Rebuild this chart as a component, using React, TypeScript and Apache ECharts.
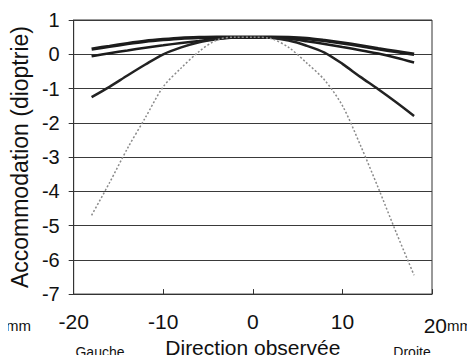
import React, { useEffect, useRef } from "react";
import * as echarts from "echarts";

const positions = [-18, -16, -14, -12, -10, -8, -6, -4, -2, 0, 2, 4, 6, 8, 10, 12, 14, 16, 18];
const seriesA = [0.15, 0.23, 0.31, 0.38, 0.43, 0.47, 0.49, 0.5, 0.5, 0.5, 0.5, 0.49, 0.46, 0.4, 0.33, 0.25, 0.16, 0.08, 0.0];
const seriesB = [-0.06, 0.03, 0.11, 0.19, 0.26, 0.33, 0.39, 0.45, 0.49, 0.5, 0.49, 0.45, 0.38, 0.3, 0.21, 0.12, 0.02, -0.1, -0.24];
const seriesC = [-1.25, -0.95, -0.62, -0.3, 0.0, 0.2, 0.35, 0.44, 0.5, 0.5, 0.48, 0.4, 0.25, 0.05, -0.28, -0.66, -1.02, -1.4, -1.8];
const seriesD = [-4.7, -3.75, -2.75, -1.85, -0.95, -0.4, 0.08, 0.42, 0.5, 0.5, 0.46, 0.2, -0.25, -0.75, -1.5, -2.65, -3.9, -5.2, -6.45];
const xTicks = [-20, -10, 0, 10, 20];
const yTicks = [1, 0, -1, -2, -3, -4, -5, -6, -7];

const FONT = "Liberation Sans, Arial, sans-serif";

export default function App() {
  const ref = useRef<HTMLDivElement>(null);
  useEffect(() => {
    if (!ref.current) return;
    const chart = echarts.init(ref.current, undefined, { renderer: "svg" });
    const pts = (arr: number[]) => positions.map((x, i) => [x, arr[i]]);
    const mk = (name: string, arr: number[], width: number, color: string, type: any) => ({
      name,
      type: "line",
      data: pts(arr),
      showSymbol: false,
      symbol: "none",
      smooth: 0.3,
      lineStyle: { width, color, type },
      z: 5,
    });
    chart.setOption({
      animation: false,
      backgroundColor: "#ffffff",
      grid: {
        left: 72,
        right: 43,
        top: 20,
        bottom: 67,
        show: true,
        borderColor: "#333",
        borderWidth: 1,
      },
      xAxis: {
        type: "value",
        min: xTicks[0],
        max: xTicks[xTicks.length - 1],
        interval: 10,
        axisLine: { show: true, onZero: false, lineStyle: { color: "#333", width: 1 } },
        axisTick: { show: true, inside: true, length: 5, lineStyle: { color: "#333" } },
        splitLine: { show: false },
        axisLabel: {
          margin: 17,
          fontFamily: FONT,
          fontSize: 21,
          color: "#111",
          formatter: (v: number) => (v === 20 ? "" : String(v)),
        },
        name: "Direction observée",
        nameLocation: "middle",
        nameGap: 39,
        nameTextStyle: { fontFamily: FONT, fontSize: 21, color: "#111" },
      },
      yAxis: {
        type: "value",
        min: yTicks[yTicks.length - 1],
        max: yTicks[0],
        interval: 1,
        axisLine: { show: true, onZero: false, lineStyle: { color: "#333", width: 1 } },
        axisTick: { show: true, inside: false, length: 5, lineStyle: { color: "#333" } },
        splitLine: { show: true, lineStyle: { color: "#3a3a3a", width: 1 } },
        axisLabel: {
          margin: 14,
          fontFamily: FONT,
          fontSize: 20,
          color: "#111",
        },
        name: "Accommodation (dioptrie)",
        nameLocation: "middle",
        nameGap: 40,
        nameRotate: 90,
        nameTextStyle: { fontFamily: FONT, fontSize: 23, color: "#111" },
      },
      graphic: [
        {
          type: "text",
          x: 472,
          y: 315,
          style: {
            text: "{a|20}{b|mm}",
            align: "right",
            rich: {
              a: { fontFamily: FONT, fontSize: 21, fill: "#111" },
              b: { fontFamily: FONT, fontSize: 15, fill: "#111" },
            },
          },
        },
        {
          type: "text",
          x: 31,
          y: 315,
          style: {
            text: "{a|-20}{b|mm}",
            align: "right",
            rich: {
              a: { fontFamily: FONT, fontSize: 21, fill: "#111" },
              b: { fontFamily: FONT, fontSize: 15, fill: "#111" },
            },
          },
        },
        {
          type: "text",
          x: 100,
          y: 352,
          style: {
            text: "Gauche",
            align: "center",
            verticalAlign: "middle",
            fontFamily: FONT,
            fontSize: 14,
            fill: "#111",
          },
        },
        {
          type: "text",
          x: 412,
          y: 352,
          style: {
            text: "Droite",
            align: "center",
            verticalAlign: "middle",
            fontFamily: FONT,
            fontSize: 14,
            fill: "#111",
          },
        },
      ],
      series: [
        mk("A", seriesA, 3.5, "#1c1c1c", "solid"),
        mk("B", seriesB, 2.5, "#1c1c1c", "solid"),
        mk("C", seriesC, 2.5, "#222", "solid"),
        mk("D", seriesD, 1.5, "#8a8a8a", [2, 2]),
      ],
    });
    return () => chart.dispose();
  }, []);
  return <div ref={ref} style={{ width: 475, height: 363, margin: -8 }} />;
}
